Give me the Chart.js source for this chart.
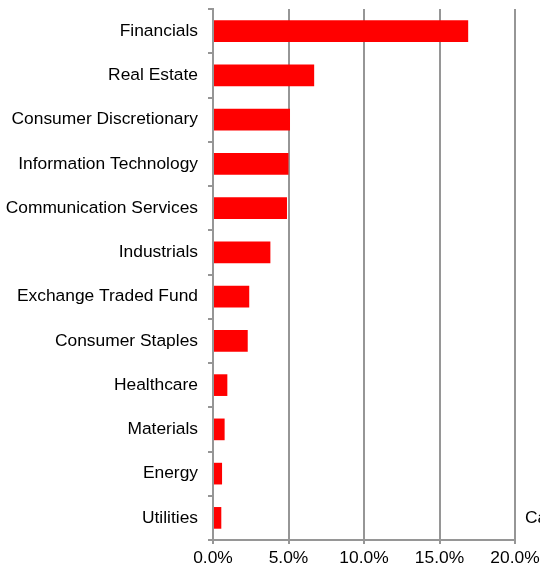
<!DOCTYPE html>
<html>
<head>
<meta charset="utf-8">
<script src="https://cdn.jsdelivr.net/npm/chart.js@4/dist/chart.umd.min.js"></script>
<style>
    html, body { margin: 0; padding: 0; background: #fff; overflow: hidden; }
    #wrap { position: relative; width: 540px; height: 570px; }
    #nota { position: absolute; left: 525px; top: 507px; font: 17.4px "Liberation Sans", Arial, sans-serif; color: #000; white-space: nowrap; }
</style>
</head>
<body>
<div id="wrap">
    <canvas id="sectorChart" width="540" height="570"></canvas>
    <div id="nota">Cash</div>
</div>
<script>
/* ===== DATOS ===== */
const sectores = [
    'Financials', 'Real Estate', 'Consumer Discretionary', 'Information Technology',
    'Communication Services', 'Industrials', 'Exchange Traded Fund', 'Consumer Staples',
    'Healthcare', 'Materials', 'Energy', 'Utilities'
];
const pesos = [16.9, 6.7, 5.1, 5.0, 4.9, 3.8, 2.4, 2.3, 0.95, 0.77, 0.6, 0.55];
const ticksX = [0, 5, 10, 15, 20];

const fuente = '"Liberation Sans", Arial, sans-serif';
const gris = '#969696';

const ctx = document.getElementById('sectorChart').getContext('2d');

const sectorChart = new Chart(ctx, {
    type: 'bar',
    data: {
        labels: sectores,
        datasets: [{
            data: pesos,
            backgroundColor: '#ff0000',
            borderWidth: 0,
            barPercentage: 0.49,
            categoryPercentage: 1
        }]
    },
    options: {
        indexAxis: 'y',
        responsive: false,
        animation: false,
        layout: {
            padding: { left: 5, right: 25, top: 9, bottom: 2 }
        },
        plugins: {
            legend: { display: false },
            tooltip: { enabled: false }
        },
        scales: {
            x: {
                min: ticksX[0],
                max: ticksX[ticksX.length - 1],
                afterBuildTicks: function(scale) {
                    scale.ticks = ticksX.map(v => ({ value: v }));
                },
                afterFit: function(scale) {
                    scale.paddingLeft = 0;
                    scale.paddingRight = 0;
                    scale.height = 28;
                },
                ticks: {
                    font: { family: fuente, size: 17.4, lineHeight: 1 },
                    color: '#000',
                    padding: 6,
                    maxRotation: 0,
                    callback: function(value) {
                        return value.toFixed(1) + '%';
                    }
                },
                grid: {
                    color: gris,
                    lineWidth: 2,
                    tickLength: 4
                },
                border: {
                    color: gris,
                    width: 2
                }
            },
            y: {
                afterFit: function(scale) {
                    scale.paddingTop = 0;
                    scale.paddingBottom = 0;
                    scale.width = 208;
                },
                ticks: {
                    font: { family: fuente, size: 17.4, lineHeight: 1 },
                    color: '#000',
                    padding: 10
                },
                grid: {
                    offset: true,
                    drawOnChartArea: false,
                    color: gris,
                    lineWidth: 2,
                    tickLength: 5
                },
                border: {
                    color: gris,
                    width: 2
                }
            }
        }
    }
});
</script>
</body>
</html>
